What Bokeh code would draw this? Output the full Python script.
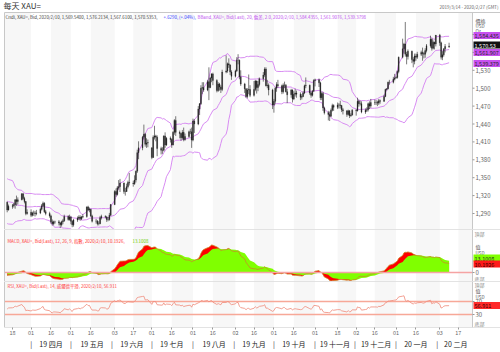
import numpy as np
import pandas as pd
from bokeh.plotting import figure
from bokeh.layouts import column
from bokeh.models import Range1d, FixedTicker, LinearAxis, BoxAnnotation, ColumnDataSource
from bokeh.core.properties import value
from bokeh.embed import file_html
from bokeh.resources import INLINE

FONT = "Noto Sans CJK TC"

# ---------------- data ----------------
warmup_start = "2019-01-02"
warmup_close = [
    1284, 1294, 1285,
    1289, 1284, 1292, 1287, 1289,
    1291, 1288, 1294, 1292, 1282,
    1280, 1278, 1283, 1281, 1298,
    1303, 1311, 1319, 1321, 1317,
    1312, 1314, 1307, 1309, 1314,
    1308, 1311, 1306, 1314, 1322,
    1327, 1339, 1345, 1324, 1328,
    1328, 1328, 1320, 1313, 1294,
    1287, 1287, 1284, 1285, 1298,
]

data_start = "2019-03-11"
opens = [
    1298, 1292, 1308, 1309, 1296,
    1302, 1303, 1305, 1313, 1310,
    1313, 1323, 1315, 1310, 1290,
    1292, 1287, 1291, 1291, 1290,
    1291, 1297, 1303, 1307, 1293,
    1290, 1286, 1276, 1273, 1276,
    1276, 1274, 1271, 1276, 1278,
    1285, 1280, 1284, 1277, 1271,
    1279, 1282, 1284, 1281, 1284,
    1285, 1301, 1296, 1297, 1286,
    1277, 1277, 1273, 1273, 1283,
    1285, 1284, 1280, 1280, 1287,
    1305, 1327, 1322, 1333, 1335,
    1341, 1327, 1327, 1335, 1342,
    1341, 1340, 1346, 1361, 1392,
    1400, 1418, 1423, 1406, 1408,
    1400, 1384, 1418, 1420, 1418,
    1399, 1396, 1396, 1420, 1405,
    1416, 1414, 1405, 1426, 1446,
    1426, 1424, 1417, 1426, 1414,
    1419, 1427, 1427, 1413, 1445,
    1440, 1465, 1474, 1500, 1501,
    1497, 1511, 1501, 1517, 1524,
    1513, 1496, 1507, 1502, 1498,
    1527, 1529, 1541, 1539, 1527,
    1520, 1529, 1547, 1547, 1519,
    1507, 1499, 1486, 1497, 1498,
    1488, 1498, 1512, 1501, 1506,
    1516, 1522, 1532, 1504, 1505,
    1497, 1472, 1478, 1500, 1506,
    1504, 1494, 1505, 1505, 1494,
    1489, 1497, 1482, 1490, 1492,
    1490, 1485, 1486, 1492, 1504,
    1505, 1492, 1488, 1495, 1513,
    1514, 1509, 1484, 1491, 1467,
    1459, 1456, 1453, 1463, 1471,
    1468, 1472, 1472, 1471, 1464,
    1462, 1456, 1462, 1454, 1455,
    1463, 1462, 1478, 1474, 1474,
    1460, 1463, 1464, 1474, 1470,
    1476, 1476, 1476, 1475, 1479,
    1478, 1486, 1498, 1499, 1510,
    1510, 1515, 1517, 1518, 1528,
    1552, 1566, 1574, 1557, 1553,
    1562, 1548, 1545, 1554, 1552,
    1557, 1560, 1558, 1557, 1563,
    1571, 1582, 1567, 1577, 1574,
    1589, 1576, 1552, 1556, 1566,
    1569.54,
]
highs = [
    1299, 1311, 1311, 1310, 1305,
    1306, 1308, 1314, 1320, 1317,
    1324, 1324, 1318, 1311, 1297,
    1297, 1293, 1295, 1294, 1296,
    1300, 1306, 1310, 1309, 1296,
    1293, 1288, 1280, 1278, 1278,
    1279, 1276, 1278, 1281, 1288,
    1287, 1288, 1286, 1279, 1281,
    1285, 1287, 1287, 1286, 1289,
    1302, 1303, 1300, 1298, 1288,
    1281, 1279, 1277, 1286, 1288,
    1287, 1286, 1284, 1291, 1306,
    1329, 1332, 1336, 1346, 1348,
    1342, 1333, 1340, 1345, 1358,
    1345, 1354, 1362, 1397, 1411,
    1420, 1439, 1425, 1416, 1414,
    1401, 1421, 1437, 1422, 1421,
    1402, 1401, 1421, 1426, 1418,
    1419, 1416, 1428, 1448, 1453,
    1429, 1425, 1430, 1434, 1424,
    1429, 1432, 1434, 1449, 1448,
    1470, 1475, 1505, 1510, 1510,
    1514, 1535, 1519, 1525, 1526,
    1515, 1510, 1509, 1505, 1531,
    1555, 1543, 1550, 1540, 1530,
    1531, 1552, 1557, 1548, 1530,
    1509, 1500, 1500, 1523, 1505,
    1512, 1514, 1513, 1512, 1518,
    1527, 1535, 1535, 1514, 1508,
    1499, 1482, 1502, 1510, 1514,
    1506, 1508, 1511, 1507, 1499,
    1499, 1498, 1495, 1499, 1496,
    1493, 1490, 1495, 1506, 1518,
    1506, 1494, 1497, 1515, 1516,
    1516, 1511, 1494, 1494, 1469,
    1462, 1461, 1466, 1474, 1473,
    1476, 1475, 1479, 1472, 1467,
    1463, 1464, 1463, 1458, 1465,
    1465, 1484, 1481, 1479, 1478,
    1466, 1468, 1476, 1478, 1482,
    1481, 1480, 1479, 1482, 1481,
    1489, 1499, 1500, 1511, 1514,
    1519, 1524, 1520, 1530, 1553,
    1583, 1576, 1611, 1561, 1565,
    1563, 1552, 1558, 1558, 1561,
    1563, 1568, 1561, 1567, 1574,
    1588, 1584, 1580, 1578, 1589,
    1591, 1578, 1562, 1567, 1574,
    1576.21,
]
lows = [
    1289, 1290, 1303, 1292, 1295,
    1298, 1300, 1298, 1303, 1305,
    1312, 1313, 1307, 1287, 1288,
    1284, 1285, 1286, 1285, 1287,
    1289, 1295, 1301, 1291, 1287,
    1283, 1273, 1270, 1270, 1273,
    1270, 1266, 1268, 1272, 1276,
    1278, 1278, 1272, 1267, 1268,
    1276, 1279, 1278, 1279, 1282,
    1283, 1294, 1292, 1284, 1275,
    1273, 1270, 1270, 1272, 1280,
    1282, 1276, 1277, 1278, 1286,
    1304, 1318, 1320, 1330, 1326,
    1323, 1320, 1326, 1332, 1337,
    1335, 1338, 1342, 1358, 1381,
    1396, 1414, 1402, 1400, 1401,
    1381, 1383, 1414, 1411, 1386,
    1389, 1390, 1394, 1400, 1403,
    1409, 1400, 1404, 1422, 1420,
    1416, 1412, 1414, 1411, 1412,
    1417, 1423, 1400, 1411, 1425,
    1438, 1455, 1472, 1490, 1494,
    1495, 1480, 1500, 1510, 1505,
    1493, 1494, 1496, 1492, 1495,
    1525, 1526, 1534, 1522, 1514,
    1518, 1527, 1540, 1515, 1504,
    1492, 1484, 1483, 1490, 1485,
    1486, 1495, 1491, 1495, 1503,
    1511, 1519, 1503, 1500, 1488,
    1465, 1459, 1474, 1494, 1501,
    1490, 1491, 1500, 1493, 1475,
    1484, 1476, 1480, 1486, 1484,
    1480, 1481, 1485, 1490, 1500,
    1489, 1484, 1486, 1494, 1503,
    1502, 1480, 1480, 1462, 1456,
    1446, 1445, 1452, 1461, 1462,
    1465, 1466, 1466, 1460, 1456,
    1452, 1454, 1450, 1452, 1454,
    1454, 1461, 1469, 1471, 1458,
    1457, 1460, 1461, 1465, 1467,
    1472, 1472, 1470, 1472, 1474,
    1477, 1485, 1496, 1498, 1506,
    1508, 1513, 1516, 1516, 1525,
    1550, 1558, 1553, 1540, 1548,
    1542, 1535, 1540, 1546, 1549,
    1554, 1546, 1550, 1551, 1560,
    1568, 1563, 1565, 1565, 1570,
    1571, 1548, 1547, 1553, 1560,
    1567.61,
]
closes = [
    1292, 1308, 1309, 1296, 1302,
    1303, 1305, 1313, 1310, 1313,
    1323, 1315, 1310, 1290, 1292,
    1287, 1291, 1291, 1290, 1291,
    1297, 1303, 1307, 1293, 1290,
    1286, 1276, 1273, 1276, 1276,
    1274, 1271, 1276, 1278, 1285,
    1280, 1284, 1277, 1271, 1279,
    1282, 1284, 1281, 1284, 1285,
    1301, 1296, 1297, 1286, 1277,
    1277, 1273, 1273, 1283, 1285,
    1284, 1280, 1280, 1287, 1305,
    1327, 1322, 1333, 1335, 1341,
    1327, 1327, 1335, 1342, 1341,
    1340, 1346, 1361, 1392, 1400,
    1418, 1423, 1406, 1408, 1409,
    1384, 1418, 1420, 1418, 1399,
    1396, 1396, 1420, 1405, 1416,
    1414, 1405, 1426, 1446, 1426,
    1424, 1417, 1426, 1414, 1419,
    1427, 1427, 1413, 1445, 1440,
    1465, 1474, 1500, 1501, 1497,
    1511, 1501, 1517, 1524, 1513,
    1496, 1507, 1502, 1498, 1527,
    1529, 1541, 1539, 1527, 1520,
    1529, 1547, 1547, 1519, 1507,
    1499, 1486, 1497, 1498, 1488,
    1498, 1512, 1501, 1506, 1516,
    1522, 1532, 1504, 1505, 1497,
    1472, 1478, 1500, 1506, 1504,
    1494, 1505, 1505, 1494, 1489,
    1497, 1482, 1490, 1492, 1490,
    1485, 1486, 1492, 1504, 1505,
    1492, 1488, 1495, 1513, 1514,
    1509, 1484, 1491, 1467, 1459,
    1456, 1453, 1463, 1471, 1468,
    1472, 1472, 1471, 1464, 1462,
    1456, 1462, 1454, 1455, 1463,
    1462, 1478, 1474, 1474, 1460,
    1463, 1464, 1474, 1470, 1476,
    1476, 1476, 1475, 1479, 1478,
    1486, 1498, 1499, 1510, 1510,
    1515, 1517, 1518, 1528, 1552,
    1566, 1574, 1557, 1553, 1562,
    1548, 1545, 1554, 1552, 1557,
    1560, 1558, 1557, 1563, 1571,
    1582, 1567, 1577, 1574, 1589,
    1576, 1552, 1556, 1566, 1570,
    1570.54,
]
show_from = "2019-03-14"

price_ticks = [1290, 1320, 1350, 1380, 1410, 1440, 1470, 1500, 1530, 1560, 1590]
macd_ticks = [0]
rsi_ticks = [30, 70]
rsi_levels = [70, 30]
tick_dates = ["2019-03-18", "2019-04-01", "2019-04-16", "2019-05-01", "2019-05-16",
              "2019-06-03", "2019-06-17", "2019-07-01", "2019-07-16", "2019-08-01",
              "2019-08-16", "2019-09-02", "2019-09-16", "2019-10-01", "2019-10-16",
              "2019-11-01", "2019-11-18", "2019-12-02", "2019-12-16", "2020-01-01",
              "2020-01-16", "2020-02-03", "2020-02-17"]
month_starts = ["2019-04-01", "2019-05-01", "2019-06-01", "2019-07-01", "2019-08-01",
                "2019-09-01", "2019-10-01", "2019-11-01", "2019-12-01", "2020-01-01",
                "2020-02-01", "2020-03-01"]
month_names = ["19 四月", "19 五月", "19 六月", "19 七月", "19 八月", "19 九月",
               "19 十月", "19 十一月", "19 十二月", "20 一月", "20 二月"]

title_text = "每天 XAU="
range_text = "2019/3/14 - 2020/2/27 (GMT)"
legend_main = ["Cndl, XAU=, Bid, 2020/2/10, 1,569.5400, 1,576.2134, 1,567.6100, 1,570.5353,",
               "+.6290, (+.04%),",
               "BBand, XAU=, Bid(Last), 20, 偏差, 2.0, 2020/2/10, 1,584.4355, 1,561.9076, 1,539.3798"]
legend_macd = ["MACD, XAU=, Bid(Last), 12, 26, 9, 指數, 2020/2/10, 10.1926,", "13.1008"]
legend_rsi = "RSI, XAU=, Bid(Last), 14, 威爾德平滑, 2020/2/10, 56.911"
tags_main = ["1,584.435", "1,570.53", "1,561.907", "1,539.379"]
tags_macd = ["13.1008", "10.1926"]
tags_rsi = ["56.911"]

# ---------------- indicators ----------------
n = min(len(opens), len(highs), len(lows), len(closes))
d_warm = pd.bdate_range(warmup_start, periods=len(warmup_close))
d_main = pd.bdate_range(data_start, periods=n)
close_all = pd.Series(list(warmup_close) + list(closes[:n]), index=d_warm.append(d_main), dtype=float)

mid = close_all.rolling(20).mean()
sd = close_all.rolling(20).std(ddof=0)
upper = mid + 2 * sd
lower = mid - 2 * sd
ema12 = close_all.ewm(span=12, adjust=False).mean()
ema26 = close_all.ewm(span=26, adjust=False).mean()
macd = ema12 - ema26
signal = macd.ewm(span=9, adjust=False).mean()
delta = close_all.diff()
ag = delta.clip(lower=0).ewm(alpha=1 / 14, adjust=False).mean()
al = (-delta.clip(upper=0)).ewm(alpha=1 / 14, adjust=False).mean()
rsi = 100 - 100 / (1 + ag / al)

BASE = pd.Timestamp("2019-03-18")
mask = close_all.index >= pd.Timestamp(show_from)
idx = close_all.index[mask]
xs = np.array((idx - BASE).days, dtype=float)

ov = pd.Series(opens[:n], index=d_main).reindex(idx).values
hv = pd.Series(highs[:n], index=d_main).reindex(idx).values
lv = pd.Series(lows[:n], index=d_main).reindex(idx).values
cv = pd.Series(closes[:n], index=d_main).reindex(idx).values

src = ColumnDataSource(dict(
    x=xs, o=ov, h=hv, l=lv, c=cv,
    top=np.maximum(ov, cv), bot=np.minimum(ov, cv),
    up=upper[mask].values, mid=mid[mask].values, lo=lower[mask].values,
    macd=macd[mask].values, sig=signal[mask].values, zero=np.zeros(len(xs)),
    rsi=rsi[mask].values,
))

# ---------------- geometry (pixels) ----------------
PX_DAY0, PX_PER_DAY = 12.0, 1.327
FL, FR, W = 4, 472, 500
TOP, MAIN_BOT, MACD_BOT, RSI_BOT = 12, 229, 281, 327


def xd(px):
    return (px - PX_DAY0) / PX_PER_DAY


PPU = 17.9 / 30.0


def ym(py):
    return 1290 + (213 - py) / PPU


mmax = float(np.nanmax(np.abs(np.concatenate([src.data["macd"], src.data["sig"]]))))
MS = 27.5 / mmax


def yc(py):
    return (272 - py) / MS


def yr(py):
    return 70 - (py - 301) / 0.325


xr = Range1d(xd(0), xd(W))
common = dict(width=W, output_backend="svg", toolbar_location=None, x_range=xr,
              min_border_left=0, min_border_right=0, y_axis_location=None,
              background_fill_color="white", border_fill_color="white",
              outline_line_color=None)

p1 = figure(height=MAIN_BOT, y_range=Range1d(ym(MAIN_BOT), ym(0)), x_axis_location=None,
            min_border_top=0, min_border_bottom=0, **common)
p2 = figure(height=MACD_BOT - MAIN_BOT, y_range=Range1d(yc(MACD_BOT), yc(MAIN_BOT)),
            x_axis_location=None, min_border_top=0, min_border_bottom=0, **common)
p3 = figure(height=352 - MACD_BOT, y_range=Range1d(yr(RSI_BOT), yr(MACD_BOT)),
            min_border_top=0, min_border_bottom=352 - RSI_BOT, **common)

GRID = "#c8c8c8"
STRIPE = "#f7f7f7"
tick_x = [int((pd.Timestamp(d) - BASE).days) for d in tick_dates]
stripe_edges = [xd(FL)] + tick_x[1:] + [xd(FR)]


def txt(p, px, yv, text, size, color, align="left", weight="normal"):
    p.text(x=[xd(px)], y=[yv], text=[text], text_font=value(FONT),
           text_font_size=value(f"{size}px"), text_color=color,
           text_align=align, text_baseline="middle", text_font_style=weight)


def frame_deco(p, yfun, ptop, pbot):
    p.grid.visible = False
    for k in range(0, len(stripe_edges) - 1, 2):
        p.add_layout(BoxAnnotation(left=stripe_edges[k], right=stripe_edges[k + 1],
                                   top=yfun(ptop), bottom=yfun(pbot),
                                   fill_color=STRIPE, fill_alpha=1.0,
                                   line_color=None, level="underlay"))


def borders(p, yfun, ptop, pbot):
    p.segment(x0=[xd(FL), xd(FR), xd(FL)], y0=[yfun(ptop), yfun(ptop), yfun(ptop)],
              x1=[xd(FL), xd(FR), xd(W)], y1=[yfun(pbot), yfun(pbot), yfun(ptop)],
              line_color=GRID, line_width=1)


def tag(p, yv, text, bg, fg):
    p.rect(x=[xd((FR + W) / 2 + 0.5)], y=[yv], width=27, height=7,
           width_units="screen", height_units="screen",
           fill_color=bg, line_color=None)
    txt(p, FR + 2, yv, text, 5.5, fg)


# ---- main pane
frame_deco(p1, ym, TOP, MAIN_BOT)
BB = "#d88cf2"
p1.line("x", "up", source=src, line_color=BB, line_width=1)
p1.line("x", "mid", source=src, line_color=BB, line_width=1)
p1.line("x", "lo", source=src, line_color=BB, line_width=1)
p1.segment(x0="x", y0="l", x1="x", y1="h", source=src, line_color="#222222", line_width=0.6)
p1.vbar(x="x", width=0.7, top="top", bottom="bot", source=src,
        fill_color="#222222", line_color="#222222", line_width=0.3)
borders(p1, ym, TOP, MAIN_BOT)
for t in price_ticks:
    p1.segment(x0=[xd(FR)], y0=[t], x1=[xd(FR + 2)], y1=[t], line_color="#999999", line_width=1)
    txt(p1, FR + 3, t, f"{t:,}", 6, "#666666")

txt(p1, 3, ym(5), title_text, 8, "#333333")
txt(p1, 498, ym(6), range_text, 4.5, "#666666", align="right")
txt(p1, 5, ym(16.5), legend_main[0], 4.4, "#3c3c3c")
txt(p1, 163, ym(16.5), legend_main[1], 4.4, "#3040ff")
txt(p1, 197, ym(16.5), legend_main[2], 4.4, "#c050f0")
txt(p1, 475, ym(19.5), "價格", 5, "#555555")
txt(p1, 475, ym(25), "USD", 4.5, "#555555")
txt(p1, 475, ym(30), "Oz", 4.5, "#555555")
tag_py = [35, 44.5, 52, 63]
tag_bg = ["#c850f0", "#111111", "#c850f0", "#c850f0"]
tag_fg = ["#2a2a2a", "#ffffff", "#2a2a2a", "#2a2a2a"]
for t, py, bg, fg in zip(tags_main, tag_py, tag_bg, tag_fg):
    tag(p1, ym(py), t, bg, fg)
p1.segment(x0=[xd(FL)], y0=[ym(MAIN_BOT)], x1=[xd(W)], y1=[ym(MAIN_BOT)],
           line_color=GRID, line_width=1)

# ---- macd pane
frame_deco(p2, yc, MAIN_BOT, MACD_BOT)
p2.varea(x="x", y1="zero", y2="macd", source=src, fill_color="#ff0000")
p2.varea(x="x", y1="zero", y2="sig", source=src, fill_color="#80ff00")
p2.line("x", "macd", source=src, line_color="#c98a2a", line_width=0.8)
p2.segment(x0=[xd(FL)], y0=[0], x1=[xd(FR)], y1=[0], line_color="#f5a3a3", line_width=1.5)
borders(p2, yc, MAIN_BOT, MACD_BOT)
for t in macd_ticks:
    p2.segment(x0=[xd(FR)], y0=[t], x1=[xd(FR + 2)], y1=[t], line_color="#999999", line_width=1)
    txt(p2, FR + 3, t, f"{t}", 6, "#666666")
txt(p2, 7, yc(240), legend_macd[0], 4.4, "#ff3030")
txt(p2, 132, yc(240), legend_macd[1], 4.4, "#66cc00")
txt(p2, 474, yc(233), "頂部", 5, "#888888")
txt(p2, 475, yc(246), "值", 5, "#555555")
txt(p2, 475, yc(252), "USD", 4.5, "#555555")
tag(p2, yc(257.5), tags_macd[0], "#80ff00", "#2a2a2a")
tag(p2, yc(263.5), tags_macd[1], "#ff1a1a", "#3a0000")
txt(p2, 474, yc(278), "底部", 5, "#888888")
p2.segment(x0=[xd(FL)], y0=[yc(MACD_BOT)], x1=[xd(W)], y1=[yc(MACD_BOT)],
           line_color=GRID, line_width=1)

# ---- rsi pane
frame_deco(p3, yr, MACD_BOT, RSI_BOT)
for lvl in rsi_levels:
    p3.segment(x0=[xd(FL)], y0=[lvl], x1=[xd(FR)], y1=[lvl], line_color="#f7a898", line_width=1.5)
p3.line("x", "rsi", source=src, line_color="#f08a7a", line_width=0.8)
borders(p3, yr, MACD_BOT, RSI_BOT)
for t in rsi_ticks:
    p3.segment(x0=[xd(FR)], y0=[t], x1=[xd(FR + 2)], y1=[t], line_color="#999999", line_width=1)
    txt(p3, FR + 3, t, f"{t}", 6, "#666666")
txt(p3, 7, yr(285.5), legend_rsi, 4.4, "#ff4040")
txt(p3, 474, yr(284), "頂部", 5, "#888888")
txt(p3, 475, yr(290), "值", 5, "#555555")
txt(p3, 475, yr(296), "USD", 4.5, "#555555")
tag(p3, yr(305), tags_rsi[0], "#ff2a2a", "#3a0000")
txt(p3, 474, yr(323), "底部", 5, "#888888")
p3.segment(x0=[xd(FL)], y0=[yr(RSI_BOT)], x1=[xd(W)], y1=[yr(RSI_BOT)],
           line_color=GRID, line_width=1)

# bottom axes
ax_d = p3.xaxis[0]
ax_d.ticker = FixedTicker(ticks=tick_x)
ax_d.major_label_overrides = {t: d[-2:] for t, d in zip(tick_x, tick_dates)}
ax_d.axis_line_color = None
ax_d.major_tick_line_color = "#999999"
ax_d.major_tick_out = 2
ax_d.major_tick_in = 0
ax_d.minor_tick_line_color = None
ax_d.major_label_standoff = 0
ax_d.major_label_text_font = FONT
ax_d.major_label_text_font_size = "5.5px"
ax_d.major_label_text_color = "#666666"

ms_x = [int((pd.Timestamp(d) - BASE).days) for d in month_starts]
mc_x = [int(round((a + b) / 2)) for a, b in zip(ms_x[:-1], ms_x[1:])]
sep_x = ms_x[:-1]
overrides = {t: nm for t, nm in zip(mc_x, month_names)}
overrides.update({t: "|" for t in sep_x})
ax_m = LinearAxis(ticker=FixedTicker(ticks=sorted(mc_x + sep_x)),
                  major_label_overrides=overrides)
ax_m.axis_line_color = None
ax_m.major_tick_line_color = None
ax_m.minor_tick_line_color = None
ax_m.major_tick_out = 0
ax_m.major_tick_in = 0
ax_m.major_label_standoff = 1
ax_m.major_label_text_font = FONT
ax_m.major_label_text_font_size = "7px"
ax_m.major_label_text_color = "#222222"
p3.add_layout(ax_m, "below")

layout = column(p1, p2, p3)
open("out.html", "w").write(file_html(layout, INLINE))
